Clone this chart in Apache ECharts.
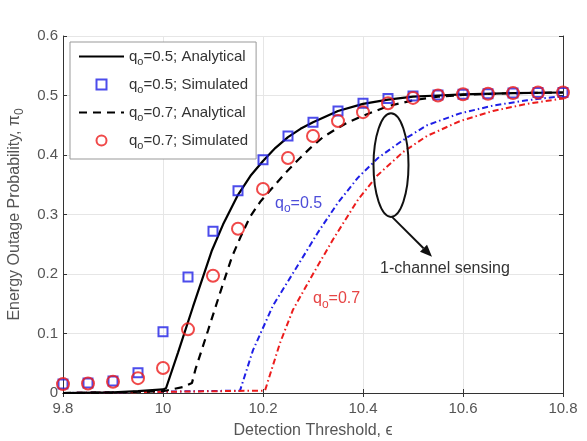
<!DOCTYPE html>
<html>
<head>
<meta charset="utf-8">
<script src="https://cdn.jsdelivr.net/npm/echarts@6/dist/echarts.min.js"></script>
<style>
  html, body { margin: 0; padding: 0; background: #fff; }
  #chart { width: 587px; height: 441px; }
</style>
</head>
<body>
<div id="chart"></div>
<script>
// detection thresholds of the simulated points
var thresholds = [9.8, 9.85, 9.9, 9.95, 10.0, 10.05, 10.1, 10.15, 10.2, 10.25, 10.3,
  10.35, 10.4, 10.45, 10.5, 10.55, 10.6, 10.65, 10.7, 10.75, 10.8]
var simQ05 = [0.015, 0.017, 0.02, 0.034, 0.103, 0.195, 0.272, 0.34, 0.392, 0.432, 0.455,
  0.474, 0.487, 0.495, 0.499, 0.501, 0.502, 0.503, 0.504, 0.505, 0.505]
var simQ07 = [0.015, 0.016, 0.019, 0.025, 0.042, 0.107, 0.197, 0.276, 0.343, 0.395, 0.432,
  0.457, 0.472, 0.487, 0.496, 0.5, 0.502, 0.503, 0.504, 0.505, 0.505]

// analytical curves (x / y)
var anaQ05X = [9.8, 9.9, 9.95, 10.0, 10.006, 10.03, 10.06, 10.098, 10.12, 10.15, 10.175,
  10.2, 10.225, 10.25, 10.275, 10.3, 10.35, 10.4, 10.45, 10.5, 10.55, 10.6, 10.7, 10.8]
var anaQ05Y = [0, 0.001, 0.003, 0.006, 0.008, 0.068, 0.145, 0.24, 0.283, 0.333, 0.365,
  0.39, 0.412, 0.43, 0.444, 0.455, 0.474, 0.486, 0.493, 0.498, 0.5, 0.502, 0.504, 0.505]
var anaQ07X = [9.8, 9.9, 10.0, 10.04, 10.058, 10.065, 10.09, 10.114, 10.138, 10.155, 10.174,
  10.195, 10.22, 10.245, 10.268, 10.295, 10.32, 10.345, 10.368, 10.4, 10.45, 10.5, 10.55,
  10.6, 10.7, 10.8]
var anaQ07Y = [0, 0.001, 0.003, 0.01, 0.017, 0.04, 0.105, 0.168, 0.229, 0.262, 0.296,
  0.322, 0.346, 0.37, 0.39, 0.412, 0.43, 0.443, 0.454, 0.466, 0.482, 0.492, 0.498,
  0.501, 0.504, 0.505]

// 1-channel sensing curves
var oneChQ05X = [9.8, 10.154, 10.18, 10.22, 10.27, 10.31, 10.35, 10.39, 10.43, 10.48,
  10.528, 10.594, 10.66, 10.728, 10.8]
var oneChQ05Y = [0, 0.004, 0.072, 0.147, 0.215, 0.27, 0.32, 0.362, 0.395, 0.425,
  0.45, 0.47, 0.483, 0.492, 0.499]
var oneChQ07X = [9.8, 10.204, 10.234, 10.26, 10.3, 10.34, 10.39, 10.428, 10.48, 10.528,
  10.594, 10.66, 10.728, 10.8]
var oneChQ07Y = [0, 0.004, 0.084, 0.14, 0.2, 0.258, 0.325, 0.365, 0.405, 0.432,
  0.457, 0.474, 0.486, 0.495]

var BLUE = '#1f1fe6'
var RED = '#ec1c1c'
var FONT = 'Liberation Sans, Arial, sans-serif'

function zip (xs, ys) {
  return xs.map(function (x, i) { return [x, ys[i]] })
}

var legendText = {
  a05: 'q{sub|o}=0.5; Analytical',
  s05: 'q{sub|o}=0.5; Simulated',
  a07: 'q{sub|o}=0.7; Analytical',
  s07: 'q{sub|o}=0.7; Simulated'
}

var frameAxis = {
  type: 'value',
  axisLine: { show: true, lineStyle: { color: '#333', width: 1 } },
  axisTick: { show: true, inside: true, length: 4, lineStyle: { color: '#333' } },
  axisLabel: { show: false },
  splitLine: { show: false }
}

var chart = echarts.init(document.getElementById('chart'), null, { renderer: 'canvas' })

var option = {
  animation: false,
  backgroundColor: '#fff',
  textStyle: { fontFamily: FONT },
  grid: { left: 63, right: 24, top: 36, bottom: 48, outerBoundsMode: 'none' },
  legend: {
    data: [
      { name: 'a05', itemStyle: { opacity: 0 } },
      { name: 's05', icon: 'path://M0,0H10V10H0Z' },
      { name: 'a07', itemStyle: { opacity: 0 } },
      { name: 's07' }
    ],
    orient: 'vertical',
    left: 70,
    top: 42,
    padding: [7, 8, 8, 8],
    itemGap: 10,
    itemWidth: 45,
    itemHeight: 10,
    symbolKeepAspect: true,
    backgroundColor: '#fff',
    borderColor: '#999',
    borderWidth: 1,
    borderRadius: 0,
    formatter: function (name) { return legendText[name] },
    textStyle: {
      fontSize: 15,
      color: '#333',
      rich: { sub: { fontSize: 11, color: '#333', padding: [10, 0, 0, 0] } }
    }
  },
  xAxis: [
    {
      type: 'value',
      min: 9.8,
      max: 10.8,
      interval: 0.2,
      name: 'Detection Threshold, \u03f5',
      nameLocation: 'middle',
      nameGap: 30,
      nameTextStyle: { fontSize: 16, color: '#555' },
      axisLine: { show: true, lineStyle: { color: '#333' } },
      axisTick: { show: true, inside: true, length: 4, lineStyle: { color: '#333' } },
      axisLabel: {
        fontSize: 15,
        color: '#555',
        margin: 8,
        formatter: function (v) { return String(parseFloat(v.toFixed(1))) }
      },
      splitLine: { show: true, lineStyle: { color: '#e6e6e6' } }
    },
    Object.assign({}, frameAxis, { position: 'top', min: 9.8, max: 10.8, interval: 0.2 })
  ],
  yAxis: [
    {
      type: 'value',
      min: 0,
      max: 0.6,
      interval: 0.1,
      name: 'Energy Outage Probability, \u03c0{sub|0}',
      nameLocation: 'middle',
      nameGap: 37,
      nameTextStyle: {
        fontSize: 16,
        color: '#555',
        rich: { sub: { fontSize: 12, color: '#555', padding: [11, 0, 0, 0] } }
      },
      axisLine: { show: true, lineStyle: { color: '#333' } },
      axisTick: { show: true, inside: true, length: 4, lineStyle: { color: '#333' } },
      axisLabel: {
        fontSize: 15,
        color: '#555',
        margin: 5,
        formatter: function (v) { return String(parseFloat(v.toFixed(1))) }
      },
      splitLine: { show: true, lineStyle: { color: '#e6e6e6' } }
    },
    Object.assign({}, frameAxis, { position: 'right', min: 0, max: 0.6, interval: 0.1 })
  ],
  series: [
    {
      name: '1ch05',
      type: 'line',
      data: zip(oneChQ05X, oneChQ05Y),
      showSymbol: false,
      lineStyle: { color: BLUE, width: 2, type: [6, 3, 1.5, 3] },
      z: 2
    },
    {
      name: '1ch07',
      type: 'line',
      data: zip(oneChQ07X, oneChQ07Y),
      showSymbol: false,
      lineStyle: { color: RED, width: 2, type: [6, 3, 1.5, 3] },
      z: 2
    },
    {
      name: 'a05',
      type: 'line',
      data: zip(anaQ05X, anaQ05Y),
      showSymbol: false,
      itemStyle: { color: '#000' },
      lineStyle: { color: '#000', width: 2.2 },
      z: 3
    },
    {
      name: 'a07',
      type: 'line',
      data: zip(anaQ07X, anaQ07Y),
      showSymbol: false,
      itemStyle: { color: '#000' },
      lineStyle: { color: '#000', width: 2.2, type: [8, 6] },
      z: 3
    },
    {
      name: 's05',
      type: 'scatter',
      data: zip(thresholds, simQ05),
      symbol: 'rect',
      symbolSize: 9,
      itemStyle: { color: 'rgba(0,0,0,0)', borderColor: BLUE, borderWidth: 2 },
      z: 4
    },
    {
      name: 's07',
      type: 'scatter',
      data: zip(thresholds, simQ07),
      symbol: 'circle',
      symbolSize: 12,
      itemStyle: { color: 'rgba(0,0,0,0)', borderColor: RED, borderWidth: 2 },
      z: 5
    }
  ]
}

chart.setOption(option)

// annotations placed from data coords
function px (x, y) { return chart.convertToPixel({ gridIndex: 0 }, [x, y]) }

var lbl05 = px(10.224, 0.315)
var lbl07 = px(10.3, 0.155)
var lblSense = px(10.434, 0.207)
var ellC = px(10.456, 0.383)
var ellEdge = px(10.491, 0.47)
var arrFrom = px(10.458, 0.296)
var arrTo = px(10.538, 0.229)

var ang = Math.atan2(arrTo[1] - arrFrom[1], arrTo[0] - arrFrom[0])
var headLen = 12, headW = 5
var back = [arrTo[0] - headLen * Math.cos(ang), arrTo[1] - headLen * Math.sin(ang)]
var head = [
  arrTo,
  [back[0] + headW * Math.sin(ang), back[1] - headW * Math.cos(ang)],
  [back[0] - headW * Math.sin(ang), back[1] + headW * Math.cos(ang)]
]

function subLabel (txt, color) {
  return {
    text: txt, fill: color, fontSize: 16, fontFamily: FONT,
    rich: { sub: { fontSize: 12, fill: color, padding: [11, 0, 0, 0] } }
  }
}

chart.setOption({
  graphic: [
    { type: 'text', left: lbl05[0], top: lbl05[1] - 10, z: 10, style: subLabel('q{sub|o}=0.5', '#4d4dd9') },
    { type: 'text', left: lbl07[0], top: lbl07[1] - 10, z: 10, style: subLabel('q{sub|o}=0.7', '#e64545') },
    {
      type: 'text', left: lblSense[0], top: lblSense[1] - 9, z: 10,
      style: { text: '1-channel sensing', fill: '#333', fontSize: 16, fontFamily: FONT }
    },
    {
      type: 'ellipse', z: 10,
      shape: { cx: ellC[0], cy: ellC[1], rx: ellEdge[0] - ellC[0], ry: ellC[1] - ellEdge[1] },
      style: { fill: null, stroke: '#111', lineWidth: 2 }
    },
    {
      type: 'line', z: 10,
      shape: { x1: arrFrom[0], y1: arrFrom[1], x2: back[0], y2: back[1] },
      style: { stroke: '#111', lineWidth: 2 }
    },
    { type: 'polygon', z: 10, shape: { points: head }, style: { fill: '#111' } }
  ]
})
</script>
</body>
</html>
